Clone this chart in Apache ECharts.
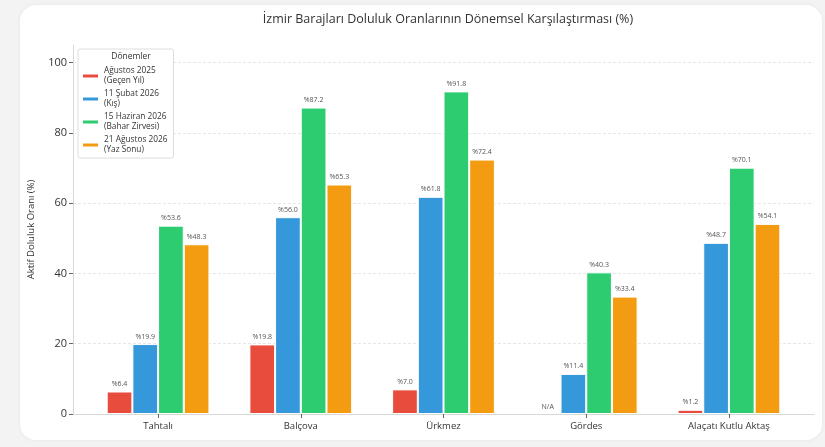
<!DOCTYPE html>
<html lang="tr">
<head>
<meta charset="UTF-8">
<title>İzmir Barajları</title>
<style>
  html, body {margin:0; padding:0; background:#f3f3f3}
  .card {position:absolute; left:20px; top:5px; width:802px; height:435px; background:#fff; border-radius:16px; box-shadow:0 0 4px rgba(0,0,0,0.06)}
  #chart {position:absolute; left:0; top:0; width:825px; height:447px}
</style>
<script src="https://cdn.jsdelivr.net/npm/echarts@6/dist/echarts.min.js"></script>
</head>
<body>
<div class="card"></div>
<div id="chart"></div>
<script>
const barajlar = ['Tahtalı', 'Balçova', 'Ürkmez', 'Gördes', 'Alaçatı Kutlu Aktaş'];
const donemler = ['Ağustos 2025\n(Geçen Yıl)', '11 Şubat 2026\n(Kış)', '15 Haziran 2026\n(Bahar Zirvesi)', '21 Ağustos 2026\n(Yaz Sonu)'];
const renkler = ['#e74c3c', '#3498db', '#2ecc71', '#f39c12'];
const agustos2025 = [6.4, 19.8, 7.0, null, 1.2];
const subat2026 = [19.9, 56.0, 61.8, 11.4, 48.7];
const haziran2026 = [53.6, 87.2, 91.8, 40.3, 70.1];
const agustos2026 = [48.3, 65.3, 72.4, 33.4, 54.1];
const yTicks = [0, 20, 40, 60, 80, 100];

const degerler = [agustos2025, subat2026, haziran2026, agustos2026];
const font = 'Open Sans, sans-serif';

const chart = echarts.init(document.getElementById('chart'));

const series = degerler.map((arr, s) => ({
  name: donemler[s],
  type: 'bar',
  barWidth: '18%',
  barGap: '0%',
  itemStyle: {color: renkler[s], borderColor: '#fff', borderWidth: 1},
  label: {
    show: true, position: 'top', distance: 4,
    fontSize: 7, color: '#555', fontFamily: font,
    formatter: p => '%' + p.value[1].toFixed(1)
  },
  data: arr.map((v, i) => v === null
    ? {value: [i, 0], itemStyle: {color: 'transparent', borderColor: 'transparent'}, label: {formatter: 'N/A', distance: 3}}
    : {value: [i, v]})
}));

chart.setOption({
  animation: false,
  textStyle: {fontFamily: font},
  title: [
    {text: 'İzmir Barajları Doluluk Oranlarının Dönemsel Karşılaştırması (%)', left: 443, top: 8, textAlign: 'center',
     textStyle: {fontSize: 12.5, fontWeight: 'normal', color: '#333', fontFamily: font}},
    {text: 'Dönemler', left: 126, top: 47, textAlign: 'center',
     textStyle: {fontSize: 8.5, fontWeight: 'normal', color: '#333', fontFamily: font}}
  ],
  legend: {
    orient: 'vertical', left: 78, top: 49,
    padding: [17, 6, 3, 3],
    itemGap: 3,
    itemWidth: 17, itemHeight: 5,
    icon: 'rect',
    borderColor: '#ddd', borderWidth: 1, borderRadius: 2,
    backgroundColor: '#fff',
    textStyle: {fontSize: 8.3, color: '#333', lineHeight: 10, fontFamily: font},
    data: donemler
  },
  grid: {left: 73, right: 11, top: 45, bottom: 33},
  xAxis: {
    type: 'value', min: -0.596, max: 4.596,
    splitLine: {show: false},
    axisLine: {show: true, onZero: false, lineStyle: {color: '#d8d8d8'}},
    axisTick: {show: true, length: 4, customValues: [0, 1, 2, 3, 4], lineStyle: {color: '#666'}},
    axisLabel: {customValues: [0, 1, 2, 3, 4], fontSize: 9.5, color: '#333', margin: 7,
                formatter: v => barajlar[Math.round(v)]}
  },
  yAxis: {
    type: 'value', min: 0, max: 105,
    name: 'Aktif Doluluk Oranı (%)', nameLocation: 'middle', nameGap: 37,
    nameTextStyle: {fontSize: 9.5, color: '#333'},
    axisLine: {show: true, onZero: false, lineStyle: {color: '#d8d8d8'}},
    axisTick: {show: true, length: 4, customValues: yTicks, lineStyle: {color: '#666'}},
    axisLabel: {customValues: yTicks, fontSize: 11, color: '#333', margin: 6},
    splitLine: {show: true, lineStyle: {color: '#e6e6e6', type: [3, 2]}}
  },
  series: series
});
</script>
</body>
</html>
